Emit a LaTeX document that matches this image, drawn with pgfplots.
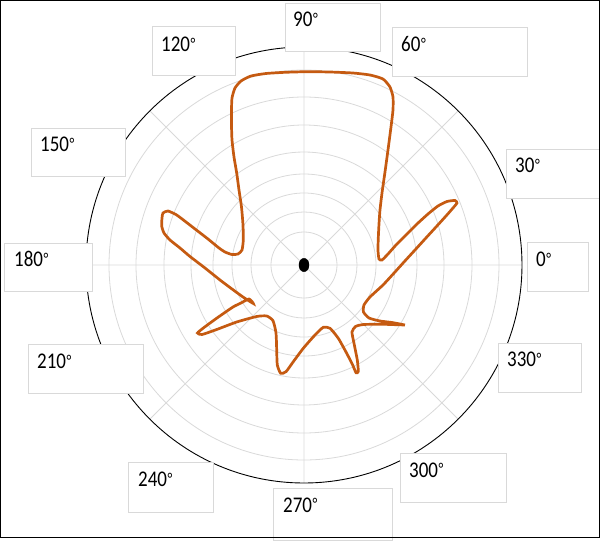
\documentclass[border=0pt]{standalone}
\usepackage{pgfplots}
\pgfplotsset{compat=1.18}
\usepgfplotslibrary{polar}
\usepackage{fontspec}
\setmainfont{Carlito}
\definecolor{curve}{RGB}{197,90,17}
\definecolor{gridgray}{RGB}{217,217,217}
\newcommand{\lbl}{\fontsize{19}{22}\selectfont}
\newcommand{\angl}[1]{\scalebox{1}[1.18]{#1\kern0.6pt\raisebox{2.2pt}{\fontsize{14}{14}\selectfont °}}}

\begin{document}
\begin{tikzpicture}
\begin{polaraxis}[
  at={(0pt,0pt)}, anchor=origin,
  scale only axis, width=436pt, height=436pt,
  ymin=0, ymax=218,
  xtick={0,45,...,315},
  ytick={33,53,72,91,113,140,168,195},
  xticklabels={}, yticklabels={},
  major tick length=0pt,
  grid=major,
  major grid style={draw=gridgray, line width=0.8pt},
  separate axis lines,
  x axis line style={black, line width=0.9pt},
  y axis line style={draw=none},
]
% pattern, read off the picture as x/y offsets from the centre (px)
\addplot[curve, line width=2.7pt, smooth, tension=0.35, data cs=cart] coordinates {
  (101,-60) (88,-57.5) (76,-56) (65,-53) (59.5,-47) (60,-40) (66,-32)
  (79,-20) (91,-7) (100,3) (111,15) (121,26) (132,38) (142,49) (149,57)
  (153,62) (151,64.5) (143,63.5) (134,59) (124,51) (113,41) (102,30)
  (92,20) (84,11) (78,5) (75,6) (74,15) (74.3,27) (75,41) (76,55)
  (78,72) (81,93) (84,115) (87,138) (89,155) (89,168) (86,178) (79,186)
  (66,190) (49,192) (26,193) (3,193.3) (-19,192.7) (-38,191.5) (-53,189)
  (-63,184) (-69,177) (-72,167) (-72.5,155) (-72.5,140) (-72,125)
  (-70,108) (-67.3,92) (-65,75) (-62.5,58) (-61,40) (-60.7,25) (-62,15)
  (-66,11) (-72,10.5) (-79,13) (-85,17) (-96,26) (-107,34.5) (-118,43)
  (-127.3,50) (-136,54) (-141,52) (-142,47) (-142.3,39) (-140,32)
  (-134,25) (-124,17) (-114,8.5) (-99,-3) (-84,-15) (-72,-24) (-61,-32)
  (-50.7,-38.5) (-55,-34) (-63,-38) (-71,-42) (-87,-53) (-100,-62.5)
  (-106.5,-68) (-102,-69.5) (-87.3,-64.5) (-67.3,-57) (-47.3,-51.5)
  (-37.3,-51) (-31,-55.7) (-28,-68) (-27.3,-85) (-26.7,-100) (-23.3,-108.3)
  (-18,-106.7) (-10.7,-96.7) (-0.7,-83.3) (11,-70) (19.3,-62.3) (26,-63.3)
  (34.3,-73.3) (42.7,-88.3) (48.7,-100) (52,-107.7) (54.3,-106.5)
  (53.3,-95) (50,-78.3) (48,-67) (51.5,-61.5) (59.3,-59.5) (79.3,-59.3)
  (94.3,-59.8) (101,-60)
};
\addplot[only marks, mark=*, mark size=6.7pt, mark options={xscale=0.75, fill=black, draw=black}] coordinates {(0,0)};
\end{polaraxis}

\begin{scope}[shift={(-304pt,265pt)}, x=1pt, y=-1pt]
  \tikzset{lbox/.style={draw=gridgray, line width=0.8pt, fill=white}}
  \draw[lbox] (285,3) rectangle (380,51);
  \draw[lbox] (152,26) rectangle (235,75);
  \draw[lbox] (392,27) rectangle (527,76);
  \draw[lbox] (31,128) rectangle (125,176);
  \draw[lbox] (506,149) rectangle (599,198);
  \draw[lbox] (4,243) rectangle (92,291);
  \draw[lbox] (527,242) rectangle (588,291);
  \draw[lbox] (28,344) rectangle (143,393);
  \draw[lbox] (498,343) rectangle (581,392);
  \draw[lbox] (400,453) rectangle (506,502);
  \draw[lbox] (128,462) rectangle (213,512);
  \draw[lbox] (273,488) rectangle (392,540);
  \tikzset{lt/.style={anchor=base west, inner sep=0pt, font=\lbl}}
  \node[lt] at (293,27) {\angl{90}};
  \node[lt] at (161,52) {\angl{120}};
  \node[lt] at (401,52) {\angl{60}};
  \node[lt] at (40,152) {\angl{150}};
  \node[lt] at (515,173) {\angl{30}};
  \node[lt] at (14,267) {\angl{180}};
  \node[lt] at (536,267) {\angl{0}};
  \node[lt] at (37,369) {\angl{210}};
  \node[lt] at (507,367) {\angl{330}};
  \node[lt] at (409,477) {\angl{300}};
  \node[lt] at (138,487) {\angl{240}};
  \node[lt] at (283,512) {\angl{270}};
  \draw[black, line width=1.5pt] (0.75,0.75) rectangle (599.25,537.25);
  \useasboundingbox (0,0) rectangle (600,538);
\end{scope}
\end{tikzpicture}
\end{document}
